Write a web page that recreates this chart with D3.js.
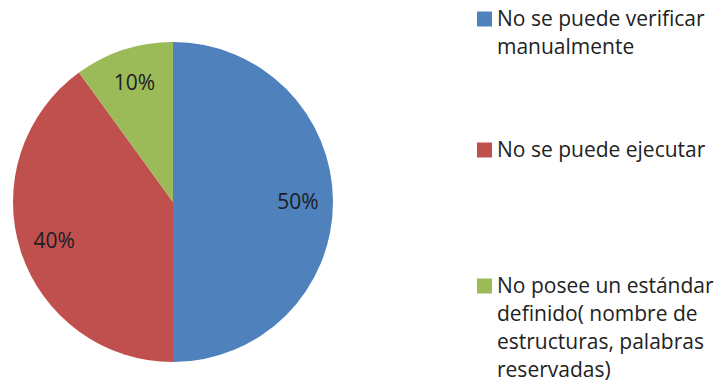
<!DOCTYPE html>
<html>
<head>
<meta charset="utf-8">
<script src="https://cdn.jsdelivr.net/npm/d3@7"></script>
<style>
  body { margin: 0; background: #fff; }
  svg { display: block; }
</style>
</head>
<body>
<div id="chart"></div>
<script>
const categories = [
  ["No se puede verificar", "manualmente"],
  ["No se puede ejecutar"],
  ["No posee un estándar", "definido( nombre de", "estructuras, palabras", "reservadas)"]
];
const values = [50, 40, 10];
const colors = ["#4F81BD", "#C0504D", "#9BBB59"];

const width = 720, height = 391;
const cx = 173, cy = 202, radius = 160;

let svg = d3
  .select("#chart")
  .append("svg")
  .attr("width", width)
  .attr("height", height);

let pie = d3.pie().sort(null).value(d => d);
let arc = d3.arc().innerRadius(0).outerRadius(radius);
let labelArc = d3.arc().innerRadius(125).outerRadius(125);

let g = svg.append("g").attr("transform", `translate(${cx},${cy})`);
let arcs = pie(values);

g.selectAll("path")
  .data(arcs)
  .join("path")
  .attr("d", arc)
  .attr("fill", (d, i) => colors[i]);

let total = d3.sum(values);
g.selectAll("text")
  .data(arcs)
  .join("text")
  .attr("transform", d => `translate(${labelArc.centroid(d)})`)
  .attr("text-anchor", "middle")
  .attr("dy", "0.35em")
  .attr("font-family", "Open Sans, sans-serif")
  .attr("font-size", 21)
  .attr("fill", "#1c1c24")
  .text(d => Math.round(d.value / total * 100) + "%");

// legend
const legendTop = [19, 150, 286];
const lineH = 28;
let legend = svg.append("g");

categories.forEach((lines, i) => {
  let row = legend.append("g").attr("transform", `translate(477,${legendTop[i]})`);
  row.append("rect")
    .attr("x", 0)
    .attr("y", -7.5)
    .attr("width", 15)
    .attr("height", 15)
    .attr("fill", colors[i]);
  row.append("text")
    .attr("font-family", "Open Sans, sans-serif")
    .attr("font-size", 21)
    .attr("fill", "#222")
    .selectAll("tspan")
    .data(lines)
    .join("tspan")
    .attr("x", 20)
    .attr("y", (d, j) => j * lineH)
    .attr("dy", "0.35em")
    .text(d => d);
});
</script>
</body>
</html>
